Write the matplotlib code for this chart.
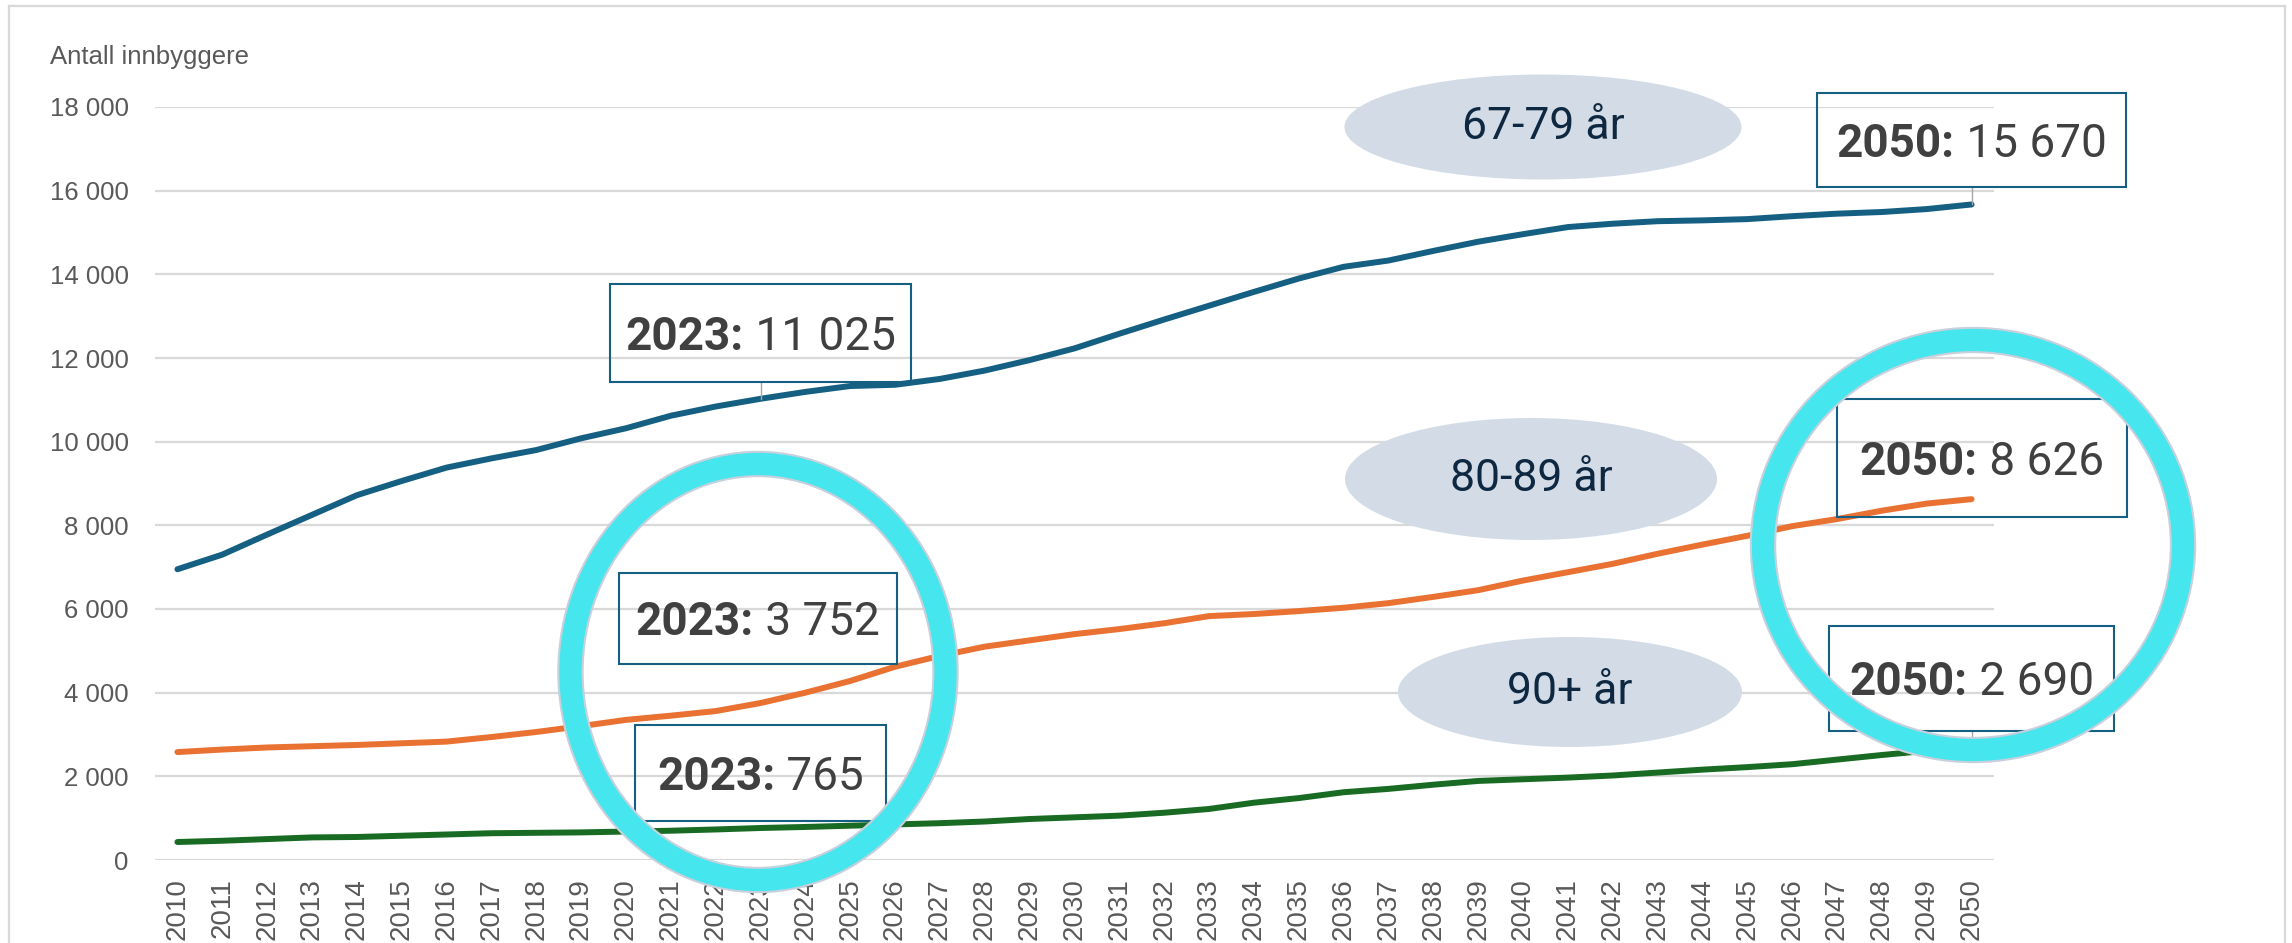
import matplotlib
matplotlib.use('Agg')
import matplotlib.pyplot as plt
from matplotlib.patches import Ellipse, Rectangle
from matplotlib.lines import Line2D
from matplotlib.transforms import IdentityTransform

years = list(range(2010, 2051))
age_67_79 = [6950, 7300, 7780, 8250, 8720, 9060, 9380, 9600, 9800, 10080,
             10320, 10620, 10840, 11025, 11190, 11330, 11360, 11500, 11700, 11950,
             12230, 12580, 12920, 13250, 13580, 13900, 14180, 14330, 14560, 14780,
             14960, 15130, 15210, 15270, 15290, 15320, 15390, 15450, 15490, 15560,
             15670]
age_80_89 = [2580, 2640, 2690, 2720, 2750, 2790, 2830, 2940, 3060, 3200,
             3350, 3450, 3560, 3752, 4000, 4280, 4620, 4880, 5100, 5250,
             5400, 5520, 5660, 5830, 5880, 5950, 6030, 6140, 6290, 6450,
             6680, 6880, 7080, 7320, 7540, 7750, 7980, 8150, 8350, 8520,
             8626]
age_90 = [430, 460, 500, 540, 550, 580, 610, 640, 650, 660,
          680, 700, 730, 765, 790, 820, 850, 880, 920, 980,
          1020, 1060, 1130, 1220, 1370, 1480, 1620, 1700, 1800, 1890,
          1930, 1970, 2020, 2090, 2160, 2220, 2290, 2400, 2510, 2610,
          2690]
series_names = ['67-79 år', '80-89 år', '90+ år']
yticks = list(range(0, 18001, 2000))

BLUE = '#156082'
ORANGE = '#E97132'
GREEN = '#196B24'
GRID = '#D9D9D9'
TXT = '#595959'
W, H = 2292, 943

plt.rcParams['font.family'] = ['Liberation Sans', 'DejaVu Sans']

fig = plt.figure(figsize=(W / 100, H / 100), dpi=100)
ax = fig.add_axes([155 / W, (H - 860) / H, (1994 - 155) / W, (860 - 107) / H])

x = list(range(len(years)))
ax.plot(x, age_67_79, color=BLUE, lw=4.3, solid_capstyle='round', zorder=3)
ax.plot(x, age_80_89, color=ORANGE, lw=4.3, solid_capstyle='round', zorder=3)
ax.plot(x, age_90, color=GREEN, lw=4.3, solid_capstyle='round', zorder=3)

ax.set_xlim(-0.5, len(years) - 0.5)
ax.set_ylim(0, 18000)
ax.set_xticks(x)
ax.set_xticklabels([str(y) for y in years], rotation=90, fontsize=20, color=TXT)
ax.set_yticks(yticks)
ax.set_yticklabels([f'{v:,}'.replace(',', ' ') for v in yticks], fontsize=18.5, color=TXT)
ax.tick_params(axis='both', length=0)
ax.tick_params(axis='x', pad=13)
ax.tick_params(axis='y', pad=19)
ax.grid(axis='y', color=GRID, lw=1.6)
ax.set_axisbelow(True)
for s in ax.spines.values():
    s.set_visible(False)

fig.text(50, H - 57, 'Antall innbyggere', transform=IdentityTransform(),
         fontsize=18.5, color=TXT, va='center', ha='left')

# figure frame
for xs, ys in [([9, 9], [0, H - 6]), ([9, 2285], [H - 6, H - 6]), ([2285, 2285], [0, H - 6])]:
    fig.add_artist(Line2D(xs, ys, color=GRID, lw=1.6, transform=IdentityTransform()))

# boxed value labels: (series, year, dx, up, width, height, leader)
labels = [
    (age_67_79, 2023, 0, 66, 301, 98, True),
    (age_67_79, 2050, 0, 64, 309, 94, True),
    (age_80_89, 2023, -3, 85, 278, 91, False),
    (age_90, 2023, 0, 55, 251, 96, False),
    (age_80_89, 2050, 10, 41, 290, 118, False),
    (age_90, 2050, 0, 69, 285, 105, True),
]

pairs = []
for data, year, dx, up, bw, bh, leader in labels:
    i = years.index(year)
    x0, y0 = ax.transData.transform((i, data[i]))
    cx, cy = x0 + dx, y0 + up
    fig.add_artist(Rectangle((cx - bw / 2, cy - bh / 2), bw, bh, fill=False,
                             ec=BLUE, lw=1.5, transform=IdentityTransform(), zorder=5))
    if leader:
        fig.add_artist(Line2D([cx, cx], [cy - bh / 2, y0], color='#A6A6A6', lw=1,
                              transform=IdentityTransform(), zorder=4))
    val = f'{data[i]:,}'.replace(',', ' ')
    t1 = fig.text(cx, cy - 17, f'{year}:', transform=IdentityTransform(), fontsize=33,
                  fontweight='bold', color='#404040', family='Roboto', va='baseline', ha='left', zorder=5)
    t2 = fig.text(cx, cy - 17, ' ' + val, transform=IdentityTransform(), fontsize=33,
                  color='#404040', family='Roboto', va='baseline', ha='left', zorder=5)
    pairs.append((cx, t1, t2))

fig.canvas.draw()
r = fig.canvas.get_renderer()
for cx, t1, t2 in pairs:
    w1 = t1.get_window_extent(r).width
    w2 = t2.get_window_extent(r).width
    left = cx - (w1 + w2) / 2
    t1.set_x(left)
    t2.set_x(left + w1)

# series name bubbles: (center x, center y from top, width, height)
bubbles = [(1543, 127, 397, 105), (1531, 479, 372, 122), (1570, 692, 344, 110)]
for name, (bx, by, bw, bh) in zip(series_names, bubbles):
    fig.add_artist(Ellipse((bx, H - by), bw, bh, fc='#D3DCE6', ec='none',
                           transform=IdentityTransform(), zorder=2))
    fig.text(bx, H - by, name, transform=IdentityTransform(), fontsize=32,
             color='#0E2841', family='Roboto', ha='center', va='center', zorder=3)

# highlight rings: (center x, center y from top, width, height)
rings = [(758, 672, 375, 416), (1973, 545, 420, 410)]
for rx, ry, rw, rh in rings:
    fig.add_artist(Ellipse((rx, H - ry), rw, rh, fill=False, ec='#C8D0DC', lw=19,
                           transform=IdentityTransform(), zorder=6))
    fig.add_artist(Ellipse((rx, H - ry), rw, rh, fill=False, ec='#45E6ED', lw=16,
                           transform=IdentityTransform(), zorder=7))

fig.savefig('out.png', dpi=100, facecolor='white')
